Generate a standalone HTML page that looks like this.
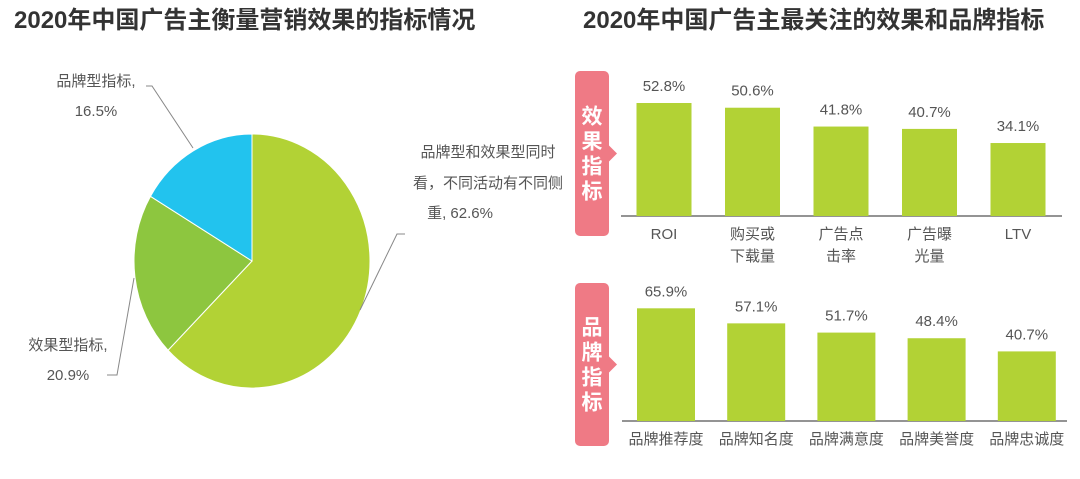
<!DOCTYPE html>
<html><head><meta charset="utf-8"><style>
body{margin:0;background:#fff;}
svg text{font-family:"Liberation Sans","Noto Sans CJK SC",sans-serif;}
</style></head><body>
<svg id="c" width="1080" height="474" viewBox="0 0 1080 474" xmlns="http://www.w3.org/2000/svg">
<text x="14" y="28" font-size="24" font-weight="bold" fill="#333">2020年中国广告主衡量营销效果的指标情况</text>
<text x="583" y="28" font-size="24" font-weight="bold" fill="#333">2020年中国广告主最关注的效果和品牌指标</text>
<g id="pie"></g>
<g id="pieLabels" font-size="15" fill="#555">
<text x="96" y="86" text-anchor="middle">品牌型指标,</text>
<text x="96" y="116" text-anchor="middle">16.5%</text>
<polyline points="146,86 152,86 193,148" fill="none" stroke="#888" stroke-width="1"/>
<text x="68" y="350" text-anchor="middle">效果型指标,</text>
<text x="68" y="380" text-anchor="middle">20.9%</text>
<polyline points="107,375 117,375 134,278" fill="none" stroke="#888" stroke-width="1"/>
<text x="488" y="157" text-anchor="middle">品牌型和效果型同时</text>
<text x="488" y="188" text-anchor="middle">看，不同活动有不同侧</text>
<text x="460" y="218" text-anchor="middle">重, 62.6%</text>
<polyline points="405,234 397,234 360,310" fill="none" stroke="#888" stroke-width="1"/>
</g>
<g id="bars"></g>
</svg>
<script>
const pieValues=[62.6,20.9,16.5];
const pieNames=['both','effect','brand'];
const topCats=['ROI','购买或|下载量','广告点|击率','广告曝|光量','LTV'];
const topVals=[52.8,50.6,41.8,40.7,34.1];
const topLabels=['52.8%','50.6%','41.8%','40.7%','34.1%'];
const botCats=['品牌推荐度','品牌知名度','品牌满意度','品牌美誉度','品牌忠诚度'];
const botVals=[65.9,57.1,51.7,48.4,40.7];
const botLabels=['65.9%','57.1%','51.7%','48.4%','40.7%'];

const NS='http://www.w3.org/2000/svg';
function mk(tag,attrs,parent){const e=document.createElementNS(NS,tag);for(const k in attrs)e.setAttribute(k,attrs[k]);parent.appendChild(e);return e;}

// pie
const pie=document.getElementById('pie');
const cx=252,cy=261,rx=118,ry=127;
const pieColors=['#b2d235','#8dc63f','#22c3ee'];
const total=pieValues.reduce((a,b)=>a+b,0);
let a0=0;
pieValues.forEach((v,i)=>{
  const a1=a0+v/total*2*Math.PI;
  const p=(a)=>[cx+rx*Math.sin(a),cy-ry*Math.cos(a)];
  const s=p(a0),e=p(a1);const large=(a1-a0)>Math.PI?1:0;
  const path=mk('path',{d:`M${cx},${cy} L${s[0]},${s[1]} A${rx},${ry} 0 ${large} 1 ${e[0]},${e[1]} Z`,fill:pieColors[i],stroke:'#fff','stroke-width':1},pie);
  
  
  a0=a1;
});

// bar panels
const bars=document.getElementById('bars');
function panel(opts){
  const g=mk('g',{},bars);
  
  
  const {bx,by,bh}=opts;
  const tag=mk('path',{d:`M${bx+5},${by} h24 a5,5 0 0 1 5,5 v${bh/2-13} l8,8 l-8,8 v${bh/2-13} a5,5 0 0 1 -5,5 h-24 a5,5 0 0 1 -5,-5 v${-bh+10} a5,5 0 0 1 5,-5z`,fill:'#ef7a85'},g);
  
  
  opts.tag.split('').forEach((ch,i)=>{
    const t=mk('text',{x:bx+17,y:by+bh/2-30+i*25,'font-size':21,'font-weight':'bold',fill:'#fff','text-anchor':'middle'},g);
    t.textContent=ch;
    
    
  });
  const ax=mk('line',{x1:opts.x0,x2:opts.x1,y1:opts.base,y2:opts.base,stroke:'#555','stroke-width':1.2},g);
  
  
  const y=(v)=>opts.base-v*opts.scale;
  const xc=(i)=>opts.c0+i*opts.step;
  opts.vals.forEach((v,i)=>{
    const r=mk('rect',{x:xc(i)-opts.w/2,y:y(v),width:opts.w,height:opts.base-y(v),fill:'#b2d235'},g);
    
    
    const t=mk('text',{x:xc(i),y:y(v)-12,'font-size':15,fill:'#555','text-anchor':'middle'},g);
    t.textContent=opts.labels[i];
    
    
    opts.cats[i].split('|').forEach((line,j)=>{
      const c=mk('text',{x:xc(i),y:opts.base+23+j*22,'font-size':opts.catSize,fill:'#555','text-anchor':'middle'},g);
      c.textContent=line;
      
      
    });
  });
}
panel({name:'effect-panel',tag:'效果指标',bx:575,by:71,bh:165,x0:621,x1:1062,base:216,scale:2.14,c0:664,step:88.5,w:55,vals:topVals,labels:topLabels,cats:topCats,catSize:15});
panel({name:'brand-panel',tag:'品牌指标',bx:575,by:283,bh:163,x0:622,x1:1067,base:421,scale:1.71,c0:666,step:90.2,w:58,vals:botVals,labels:botLabels,cats:botCats,catSize:15});
</script>
</body></html>
